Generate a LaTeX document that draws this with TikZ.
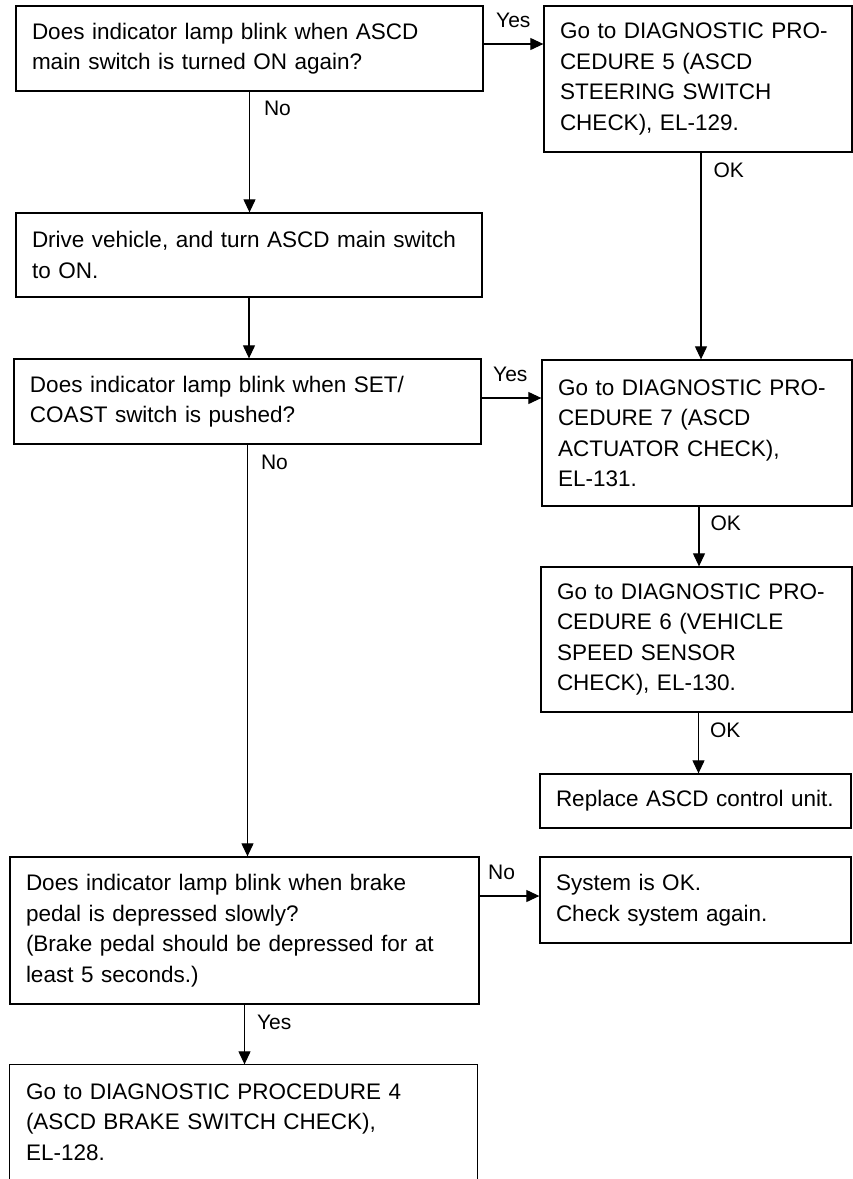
\documentclass[tikz,border=0pt]{standalone}
\usepackage{fontspec}
\setmainfont{Liberation Sans}
\usetikzlibrary{arrows.meta,calc}
\begin{document}
\begin{tikzpicture}[x=1pt,y=-1pt,
 box/.style={draw, line width=1.3pt, align=left, inner xsep=16pt, inner ysep=0pt, font=\fontsize{22.5}{30.5}\selectfont},
 arr/.style={line width=1.1pt, -{Triangle[length=13pt,width=12pt]}},
 lbl/.style={inner sep=0pt, font=\fontsize{21}{25}\selectfont}]
\useasboundingbox (0,0) rectangle (853,1179);
\node[box, minimum width=467pt, minimum height=85pt, text width=435pt] (A) at (249.5,48.5)
  {Does indicator lamp blink when ASCD\\main switch is turned ON again?};
\node[box, minimum width=308pt, minimum height=146pt, text width=276pt] (B) at (698,79)
  {Go to DIAGNOSTIC PRO-\\CEDURE 5 (ASCD\\STEERING SWITCH\\CHECK), EL-129.};
\node[box, minimum width=466pt, minimum height=84pt, text width=434pt] (C) at (249,255)
  {Drive vehicle, and turn ASCD main switch\\to ON.};
\node[box, minimum width=467pt, minimum height=85pt, text width=435pt] (D) at (247.5,401.5)
  {Does indicator lamp blink when SET/\\COAST switch is pushed?};
\node[box, minimum width=310pt, minimum height=146pt, text width=278pt] (E) at (697,433)
  {Go to DIAGNOSTIC PRO-\\CEDURE 7 (ASCD\\ACTUATOR CHECK),\\EL-131.};
\node[box, minimum width=311pt, minimum height=145pt, text width=279pt] (F) at (696.5,639.5)
  {Go to DIAGNOSTIC PRO-\\CEDURE 6 (VEHICLE\\SPEED SENSOR\\CHECK), EL-130.};
\node[box, minimum width=311pt, minimum height=54pt, text width=279pt] (G) at (695.5,801)
  {Replace ASCD control unit.};
\node[box, minimum width=469pt, minimum height=147pt, text width=437pt] (H) at (244.5,930.5)
  {Does indicator lamp blink when brake\\pedal is depressed slowly?\\(Brake pedal should be depressed for at\\least 5 seconds.)};
\node[box, minimum width=311pt, minimum height=86pt, text width=279pt] (I) at (695.5,900)
  {System is OK.\\Check system again.};
\node[box, draw=none, minimum width=467pt, minimum height=114pt, text width=435pt] (J) at (243.5,1122)
  {Go to DIAGNOSTIC PROCEDURE 4\\(ASCD BRAKE SWITCH CHECK),\\EL-128.};
\draw[line width=1.3pt] (J.south west) -- (J.north west) -- (J.north east) -- (J.south east);

\draw[arr] ([yshift=4.5pt]A.east) node[lbl, anchor=south west, xshift=12pt, yshift=16pt] {Yes}
  -- ([yshift=4.5pt]A.east -| B.west);
\draw[arr] (A.south) node[lbl, anchor=north west, xshift=14pt, yshift=-9pt] {No}
  -- (A.south |- C.north);
\draw[arr] ([xshift=3pt]B.south) node[lbl, anchor=north west, xshift=12pt, yshift=-10pt] {OK}
  -- ([xshift=3pt]B.south |- E.north);
\draw[arr] (C.south) -- (C.south |- D.north);
\draw[arr] ([yshift=3.5pt]D.east) node[lbl, anchor=south west, xshift=11pt, yshift=16pt] {Yes}
  -- ([yshift=3.5pt]D.east -| E.west);
\draw[arr] (D.south) node[lbl, anchor=north west, xshift=13pt, yshift=-10pt] {No}
  -- (D.south |- H.north);
\draw[arr] ([xshift=2pt]E.south) node[lbl, anchor=north west, xshift=11pt, yshift=-9pt] {OK}
  -- ([xshift=2pt]E.south |- F.north);
\draw[arr] ([xshift=2pt]F.south) node[lbl, anchor=north west, xshift=11pt, yshift=-10pt] {OK}
  -- ([xshift=2pt]F.south |- G.north);
\draw[arr] ([yshift=4pt]I.west -| H.east) node[lbl, anchor=south west, xshift=8pt, yshift=15.5pt] {No}
  -- ([yshift=4pt]I.west);
\draw[arr] (H.south) node[lbl, anchor=north west, xshift=12pt, yshift=-10pt] {Yes}
  -- (H.south |- J.north);
\end{tikzpicture}
\end{document}
